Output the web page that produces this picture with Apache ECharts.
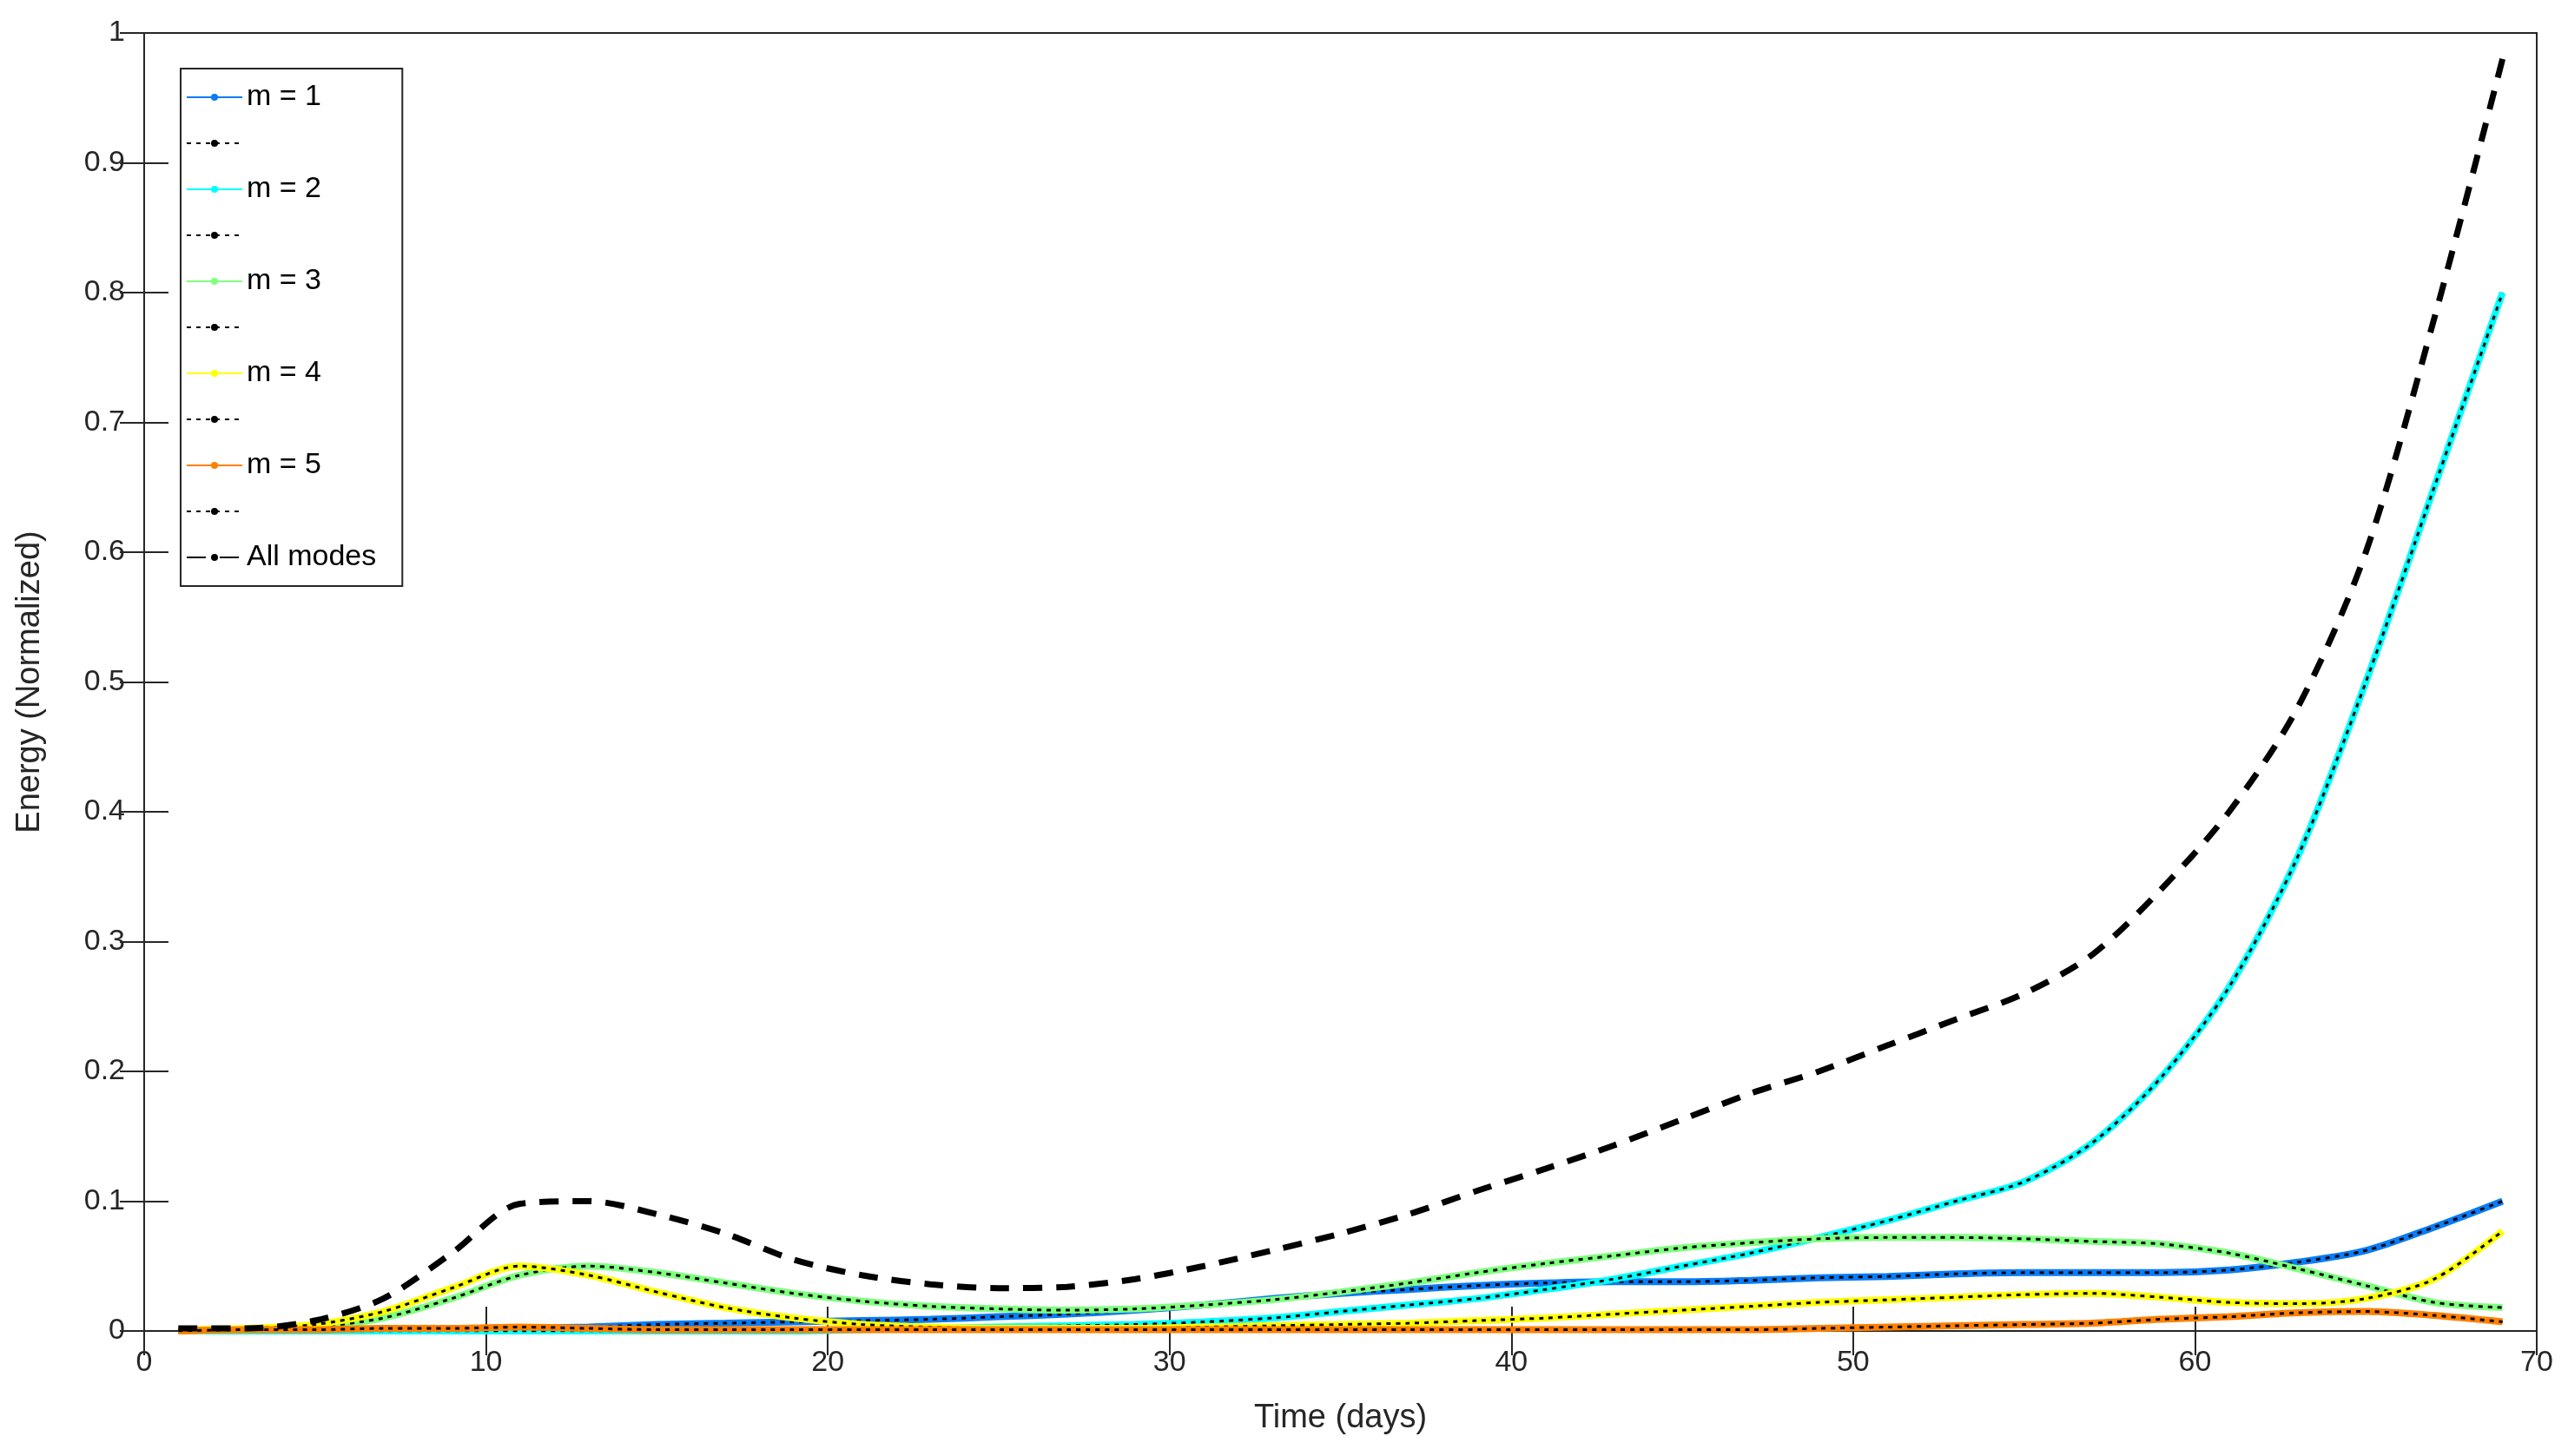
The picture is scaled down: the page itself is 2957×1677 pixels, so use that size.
<!DOCTYPE html>
<html>
<head>
<meta charset="utf-8">
<script src="https://cdn.jsdelivr.net/npm/echarts@6/dist/echarts.min.js"></script>
<style>html,body{margin:0;padding:0;background:#fff}#main{width:2957px;height:1677px}</style>
</head>
<body>
<div id="main"></div>
<script>
// 时间 (天)
var days = [1,3,5,7,9,11,13,15,17,19,21,23,25,27,29,31,33,35,37,39,41,43,45,47,49,51,53,55,57,59,61,63,65,67,69];
var m1 = [0,0,0,0,0.001,0.002,0.003,0.005,0.006,0.007,0.008,0.009,0.011,0.013,0.016,0.02,0.025,0.029,0.032,0.035,0.037,0.038,0.038,0.039,0.041,0.042,0.044,0.045,0.045,0.045,0.047,0.053,0.062,0.08,0.1];
var m2 = [0,0,0,0,0,0,0,0,0,0,0.001,0.002,0.003,0.004,0.005,0.007,0.01,0.015,0.02,0.025,0.032,0.04,0.05,0.06,0.072,0.085,0.1,0.115,0.145,0.195,0.265,0.365,0.5,0.65,0.8];
var m3 = [0,0.001,0.003,0.01,0.025,0.043,0.05,0.045,0.037,0.029,0.023,0.019,0.017,0.016,0.017,0.02,0.024,0.03,0.037,0.045,0.052,0.058,0.064,0.068,0.071,0.072,0.072,0.071,0.069,0.067,0.06,0.048,0.035,0.022,0.018];
var m4 = [0.001,0.002,0.005,0.015,0.033,0.05,0.043,0.03,0.018,0.01,0.005,0.003,0.002,0.002,0.002,0.003,0.004,0.005,0.006,0.008,0.01,0.013,0.016,0.019,0.022,0.024,0.026,0.028,0.029,0.026,0.022,0.021,0.025,0.04,0.077];
var m5 = [0,0.001,0.001,0.002,0.002,0.003,0.002,0.001,0.001,0.001,0.001,0.001,0.001,0.001,0.001,0.001,0.001,0.001,0.001,0.001,0.001,0.001,0.001,0.001,0.002,0.003,0.004,0.005,0.006,0.009,0.011,0.014,0.015,0.012,0.007];
var allModes = [0.002,0.002,0.008,0.025,0.06,0.098,0.1,0.09,0.075,0.055,0.043,0.036,0.033,0.034,0.04,0.05,0.062,0.075,0.09,0.108,0.125,0.143,0.163,0.183,0.2,0.22,0.24,0.26,0.29,0.34,0.4,0.48,0.6,0.78,0.98];

var modes = [m1, m2, m3, m4, m5];
var modeNames = ['m = 1', 'm = 2', 'm = 3', 'm = 4', 'm = 5'];
var colors = ['#0a7cf5', '#00ffff', '#80ff80', '#ffff00', '#ff8000'];
var txt = '#262626';
var font = 'Liberation Sans';

function pts(arr){
    var r = [];
    for (var i = 0; i < days.length; i++) r.push([days[i], arr[i]]);
    return r;
}

var series = [];
var legendData = [];
for (var k = 0; k < modes.length; k++) {
    var blank = '\u200b'.repeat(k + 1);
    series.push({
        name: modeNames[k], type: 'line', data: pts(modes[k]), symbol: 'none', smooth: 0.3,
        lineStyle: {color: colors[k], width: 8}, itemStyle: {color: colors[k]}
    });
    series.push({
        name: blank, type: 'line', data: pts(modes[k]), symbol: 'none', smooth: 0.3,
        lineStyle: {color: '#000', width: 3, type: [5, 6]}, itemStyle: {color: '#000'}, z: 3
    });
    legendData.push(modeNames[k], blank);
}
series.push({
    name: 'All modes', type: 'line', data: pts(allModes), symbol: 'none', smooth: 0.3,
    lineStyle: {color: '#000', width: 7, type: [22, 16]}, itemStyle: {color: '#000'}, z: 4
});
legendData.push('All modes');

var myChart = echarts.init(document.getElementById('main'));
var option = {
    animation: false,
    textStyle: {fontFamily: font},
    grid: {left: 166, right: 36, top: 38, bottom: 144, show: true, borderColor: txt, borderWidth: 2},
    legend: {
        data: legendData, orient: 'vertical', left: 208, top: 79,
        itemWidth: 64, itemHeight: 10, itemGap: 19,
        padding: [16, 30, 16, 6],
        borderColor: txt, borderWidth: 2, backgroundColor: '#fff',
        textStyle: {fontSize: 34, color: '#000', fontFamily: font},
        selectedMode: false
    },
    xAxis: [
        {
            type: 'value', min: 0, max: 70, interval: 10,
            name: 'Time (days)', nameLocation: 'middle', nameGap: 82,
            nameTextStyle: {fontSize: 38, color: txt, fontFamily: font},
            axisLine: {lineStyle: {color: txt, width: 2}},
            axisTick: {inside: true, length: 28, lineStyle: {color: txt, width: 2}},
            axisLabel: {fontSize: 34, color: txt, margin: 20},
            splitLine: {show: false}
        },
        {
            type: 'value', min: 0, max: 70, interval: 10, position: 'top',
            axisLine: {show: false},
            axisTick: {inside: true, length: 28, lineStyle: {color: txt, width: 2}},
            axisLabel: {show: false}, splitLine: {show: false}
        }
    ],
    yAxis: [
        {
            type: 'value', min: 0, max: 1, interval: 0.1,
            name: 'Energy (Normalized)', nameLocation: 'middle', nameGap: 112,
            nameTextStyle: {fontSize: 38, color: txt, fontFamily: font},
            axisLine: {lineStyle: {color: txt, width: 2}},
            axisTick: {inside: true, length: 28, lineStyle: {color: txt, width: 2}},
            axisLabel: {fontSize: 34, color: txt, margin: 22},
            splitLine: {show: false}
        },
        {
            type: 'value', min: 0, max: 1, interval: 0.1, position: 'right',
            axisLine: {show: false},
            axisTick: {inside: true, length: 28, lineStyle: {color: txt, width: 2}},
            axisLabel: {show: false}, splitLine: {show: false}
        }
    ],
    series: series
};
myChart.setOption(option);
</script>
</body>
</html>
